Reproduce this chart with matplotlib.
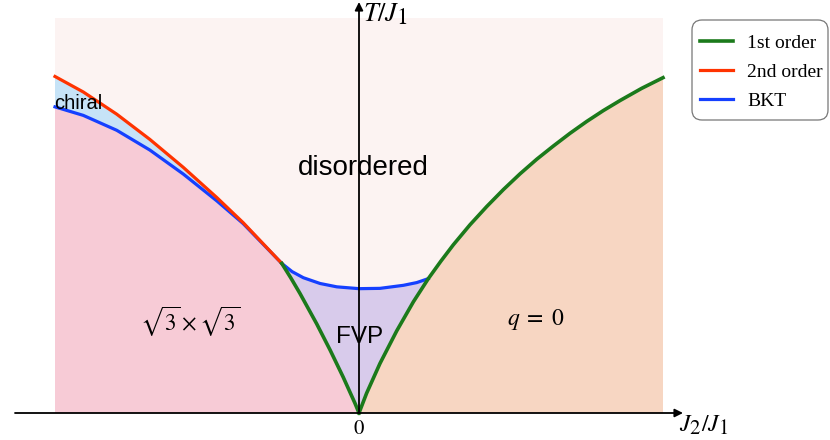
import matplotlib
matplotlib.use("Agg")
import matplotlib.pyplot as plt
import matplotlib._mathtext as mtext
from matplotlib.patches import FancyBboxPatch
from matplotlib.transforms import IdentityTransform

plt.rcParams['mathtext.fontset'] = 'stix'
mtext.SHRINK_FACTOR = 0.88  # bigger sub/superscripts, like the reference

# boundaries (J2/J1, T/J1)
red_x = [-1.0, -0.907, -0.797, -0.688, -0.578, -0.468, -0.381, -0.254]
red_t = [1.107, 1.056, 0.983, 0.900, 0.808, 0.709, 0.626, 0.492]

bkt_left_x = [-1.0, -0.907, -0.797, -0.688, -0.578, -0.468, -0.381, -0.254]
bkt_left_t = [1.007, 0.979, 0.930, 0.865, 0.786, 0.698, 0.623, 0.492]

bkt_mid_x = [-0.254, -0.22, -0.183, -0.128, -0.073, 0.0, 0.069, 0.146, 0.19, 0.228]
bkt_mid_t = [0.492, 0.465, 0.445, 0.426, 0.415, 0.409, 0.410, 0.420, 0.429, 0.442]

first_left_x = [-0.254, -0.224, -0.194, -0.139, -0.095, -0.052, -0.013, 0.0]
first_left_t = [0.492, 0.444, 0.393, 0.293, 0.207, 0.118, 0.0315, 0.0]

first_right_x = [0.0, 0.025, 0.069, 0.124, 0.179, 0.228, 0.269, 0.310, 0.365,
                 0.420, 0.475, 0.530, 0.585, 0.639, 0.694, 0.749, 0.804, 0.859,
                 0.93, 1.0]
first_right_t = [0.0, 0.065, 0.163, 0.270, 0.366, 0.442, 0.499, 0.553, 0.619,
                 0.679, 0.735, 0.787, 0.835, 0.878, 0.920, 0.959, 0.995, 1.028,
                 1.068, 1.103]

x_lo, x_hi, t_top = -1.0, 1.0, 1.3

c_dis = '#fcf3f2'
c_sqrt = '#f7cbd6'
c_chiral = '#c6e3f7'
c_fvp = '#d8cbeb'
c_q0 = '#f7d6c2'
c_green = '#1b7a1b'
c_red = '#ff3300'
c_blue = '#1540ff'

fig = plt.figure(figsize=(8.3, 4.4), dpi=100)
ax = fig.add_axes([0, 0, 1, 1])
ax.set_xlim(-359 / 304, 471 / 304)
ax.set_ylim(-27 / 304, 413 / 304)
ax.axis('off')

# background = disordered
ax.fill([x_lo, x_hi, x_hi, x_lo], [0, 0, t_top, t_top], color=c_dis, lw=0)

# sqrt3 x sqrt3 region
ax.fill([x_lo] + bkt_left_x + first_left_x, [0] + bkt_left_t + first_left_t,
        color=c_sqrt, lw=0)

# chiral sliver between red and blue
ax.fill(red_x + bkt_left_x[::-1], red_t + bkt_left_t[::-1], color=c_chiral, lw=0)

# FVP
n_r = first_right_x.index(bkt_mid_x[-1])
ax.fill(bkt_mid_x + first_right_x[n_r::-1] + first_left_x[::-1][1:],
        bkt_mid_t + first_right_t[n_r::-1] + first_left_t[::-1][1:],
        color=c_fvp, lw=0)

# q = 0
ax.fill(first_right_x + [x_hi], first_right_t + [0], color=c_q0, lw=0)

# axes with arrows
arw = dict(arrowstyle='-|>', lw=1.3, color='k', mutation_scale=12, shrinkA=0, shrinkB=0)
ax.annotate('', xy=(324 / 304, 0), xytext=(-344 / 304, 0), arrowprops=arw)
ax.annotate('', xy=(0, 411 / 304), xytext=(0, 0), arrowprops=arw)

# phase boundaries
ax.plot(bkt_left_x, bkt_left_t, color=c_blue, lw=2.3, solid_joinstyle='round')
ax.plot(bkt_mid_x, bkt_mid_t, color=c_blue, lw=2.3, solid_joinstyle='round')
l2, = ax.plot(red_x, red_t, color=c_red, lw=2.3, solid_joinstyle='round',
              label='2nd order')
ax.plot(first_left_x, first_left_t, color=c_green, lw=2.6, solid_joinstyle='round')
l1, = ax.plot(first_right_x, first_right_t, color=c_green, lw=2.6,
              solid_joinstyle='round', label='1st order')
lb, = ax.plot([], [], color=c_blue, lw=2.3, label='BKT')

# labels
ax.text(0.013, 0.805, 'disordered', ha='center', va='center', fontsize=20,
        family='Liberation Sans')
ax.text(-1.003, 1.0, 'chiral', ha='left', va='baseline', fontsize=14.5,
        family='Liberation Sans')
ax.text(0.003, 0.25, 'FVP', ha='center', va='center', fontsize=17.5,
        family='Liberation Sans')
ax.text(-0.556, 0.30, r'$\sqrt{3}\times\sqrt{3}$', ha='center', va='center',
        fontsize=16.5)
ax.text(0.582, 0.306, r'$q\;=\;0$', ha='center', va='center', fontsize=17)
ax.text(0.0, -0.015, r'$0$', ha='center', va='top', fontsize=15)
ax.text(0.012, 1.355, r'$T/J_1$', ha='left', va='top', fontsize=19)
ax.text(1.053, 0.0, r'$J_2/J_1$', ha='left', va='top', fontsize=17)

# legend box drawn by hand (pixel coords), entries without frame
box = FancyBboxPatch((692, 320), 136, 100, boxstyle='round,pad=0,rounding_size=10',
                     transform=IdentityTransform(), facecolor='white',
                     edgecolor='#777777', lw=0.9)
fig.add_artist(box)
leg = fig.legend(handles=[l1, l2, lb], loc='upper left',
                 bbox_to_anchor=(700 / 830, 1 - 34 / 440),
                 prop={'family': 'Liberation Serif', 'size': 14},
                 handlelength=1.7, handletextpad=0.72, frameon=False,
                 borderpad=0.0, labelspacing=0.6, borderaxespad=0.0)

fig.savefig('out.png', dpi=100)
